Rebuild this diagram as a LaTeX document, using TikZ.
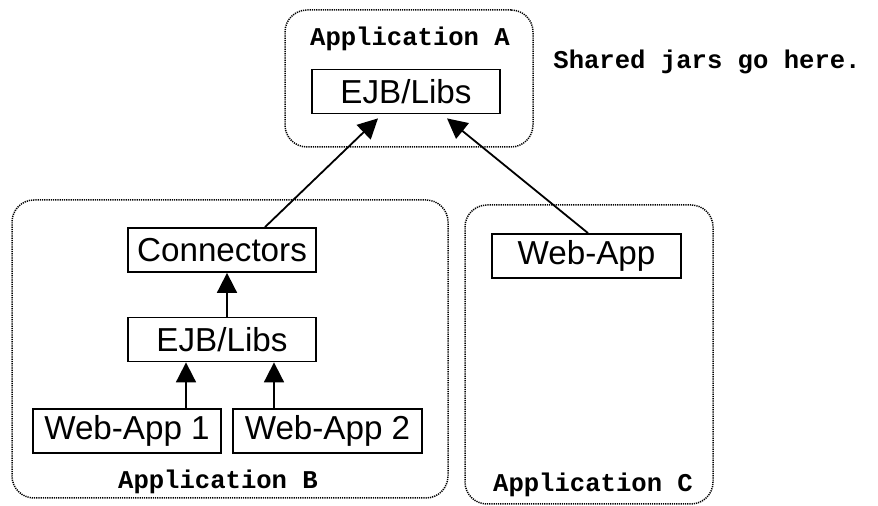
\documentclass[tikz,border=0pt]{standalone}
\usepackage{fontspec}
\setmainfont{Liberation Sans}
\setmonofont{Liberation Mono}
\usetikzlibrary{arrows.meta,calc}
\begin{document}
\begin{tikzpicture}[x=0.5pt,y=-0.5pt,
  appbox/.style={draw, rounded corners=11pt, line width=0.75pt, dash pattern=on 0.6pt off 0.5pt, inner sep=0pt},
  comp/.style={draw, line width=0.9pt, minimum width=94pt, minimum height=22pt, inner sep=0pt, font=\fontsize{16.6}{18}\selectfont},
  lbl/.style={font=\fontsize{12.8}{14}\selectfont\ttfamily\bfseries, inner sep=0pt},
  dep/.style={line width=0.9pt, -{Triangle[length=10pt,width=10pt]}}]
\useasboundingbox (0,0) rectangle (878,506);
% containers
\node[appbox, minimum width=124pt, minimum height=68.5pt] (appA) at (409,78.5) {};
\node[appbox, minimum width=218pt, minimum height=149pt] (appB) at (230,349) {};
\node[appbox, minimum width=124pt, minimum height=149.5pt] (appC) at (589,354.5) {};
% labels
\node[lbl] (labA) at (410,39) {Application A};
\node[lbl] (labB) at (218,482) {Application B};
\node[lbl] (labC) at (593,485) {Application C};
\node[lbl, anchor=west] (shared) at (553,62) {Shared jars go here.};
% components
\node[comp] (ejbA) at (406,91.5) {EJB/Libs};
\node[comp] (conn) at (222,250) {Connectors};
\node[comp] (ejbB) at (222,339.5) {EJB/Libs};
\node[comp] (wa1) at (127,431) {Web-App 1};
\node[comp, minimum width=94.5pt] (wa2) at (327.5,431) {Web-App 2};
\node[comp, minimum width=94.5pt] (wac) at (586.5,256) {Web-App};
% connectors
\draw[dep] ([xshift=2.5pt]ejbB.north) -- ([xshift=2.5pt]ejbB.north |- conn.south);
\draw[dep] ([xshift=29.5pt]wa1.north) -- ([xshift=29.5pt]wa1.north |- ejbB.south);
\draw[dep] ([xshift=-26.75pt]wa2.north) -- ([xshift=-26.75pt]wa2.north |- ejbB.south);
\draw[dep] ([xshift=21.5pt]conn.north) -- ([xshift=-14pt,yshift=-2pt]ejbA.south);
\draw[dep] ([xshift=0.75pt]wac.north) -- ([xshift=20.5pt,yshift=-2pt]ejbA.south);
\end{tikzpicture}
\end{document}
